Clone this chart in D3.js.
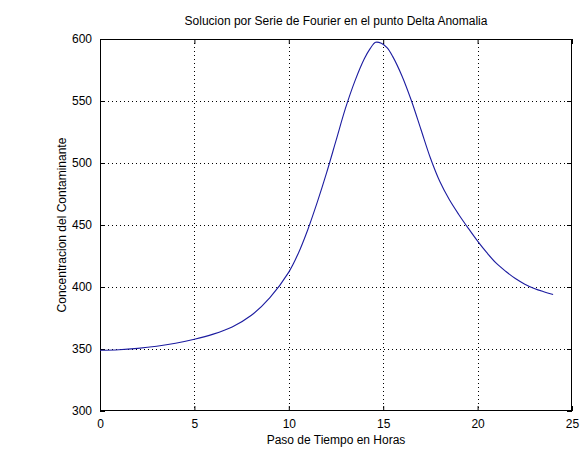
<!DOCTYPE html>
<html><head><meta charset="utf-8">
<script src="https://cdn.jsdelivr.net/npm/d3@7"></script>
<style>body{margin:0;background:#fff;}svg{display:block;font-family:"Liberation Sans",Arial,sans-serif;}</style>
</head><body>
<svg id="c" width="588" height="462"></svg>
<script>
const title = "Solucion por Serie de Fourier en el punto Delta Anomalia";
const xLabel = "Paso de Tiempo en Horas";
const yLabel = "Concentracion del Contaminante";
const xTicks = [0, 5, 10, 15, 20, 25];
const yTicks = [300, 350, 400, 450, 500, 550, 600];
const hours = [0, 1, 2, 3, 4, 5, 6, 7, 8, 9, 10, 10.5, 11, 11.5, 12, 12.5, 13, 13.5, 14, 14.3, 14.6, 14.9, 15.2, 15.5, 16, 16.5, 17, 17.5, 18, 18.5, 19, 19.5, 20, 20.5, 21, 21.5, 22, 22.5, 23, 23.5, 24];
const conc  = [349, 349.4, 350.5, 352.2, 354.6, 357.8, 362, 367.8, 377, 391.5, 412, 427, 446, 468, 492, 518, 544, 566, 584, 592, 597.3, 596.5, 593, 586, 570, 550, 527, 504, 485, 470.5, 458.5, 447.5, 437, 427.5, 419, 412.5, 406.8, 402.3, 398.8, 396.2, 394];

const svg = d3.select("#c");
const L = 100, R = 572, T = 39, B = 411;
const x = d3.scaleLinear().domain([0, 25]).range([L, R]);
const y = d3.scaleLinear().domain([300, 600]).range([B, T]);

// grid
const grid = svg.append("g").attr("stroke", "#000").attr("stroke-width", 1).attr("stroke-dasharray", "1,3").attr("shape-rendering", "crispEdges");
xTicks.slice(1, -1).forEach(t => grid.append("line").attr("x1", Math.round(x(t)) + 0.5).attr("x2", Math.round(x(t)) + 0.5).attr("y1", T).attr("y2", B));
yTicks.slice(1, -1).forEach(t => grid.append("line").attr("y1", Math.round(y(t)) + 0.5).attr("y2", Math.round(y(t)) + 0.5).attr("x1", L).attr("x2", R));

// axes with inward ticks
svg.append("g").attr("transform", `translate(0,${B})`)
  .call(d3.axisBottom(x).tickValues(xTicks).tickSize(-5).tickPadding(8).tickFormat(d3.format("d")))
  .call(g => g.select(".domain").remove());
svg.append("g").attr("transform", `translate(0,${T})`)
  .call(d3.axisTop(x).tickValues(xTicks).tickSize(-5).tickFormat(""))
  .call(g => g.select(".domain").remove());
svg.append("g").attr("transform", `translate(${L},0)`)
  .call(d3.axisLeft(y).tickValues(yTicks).tickSize(-5).tickPadding(8).tickFormat(d3.format("d")))
  .call(g => g.select(".domain").remove());
svg.append("g").attr("transform", `translate(${R},0)`)
  .call(d3.axisRight(y).tickValues(yTicks).tickSize(-5).tickFormat(""))
  .call(g => g.select(".domain").remove());
svg.selectAll(".tick text").attr("font-size", 12).attr("font-family", "Liberation Sans, Arial, sans-serif").attr("fill", "#000");
svg.selectAll(".tick line").attr("stroke", "#000");

// box
svg.append("rect").attr("x", L + 0.5).attr("y", T + 0.5).attr("width", R - L - 1).attr("height", B - T - 1)
  .attr("fill", "none").attr("stroke", "#000").attr("stroke-width", 1);

// line
const line = d3.line().x((d, i) => x(hours[i])).y(d => y(d)).curve(d3.curveCatmullRom.alpha(0.5));
svg.append("path").datum(conc).attr("d", line).attr("fill", "none").attr("stroke", "#1c1ca0").attr("stroke-width", 1.1);

// texts
svg.append("text").attr("x", (L + R) / 2).attr("y", 25).attr("text-anchor", "middle").attr("font-size", 12).text(title);
svg.append("text").attr("x", (L + R) / 2).attr("y", 444).attr("text-anchor", "middle").attr("font-size", 12).text(xLabel);
svg.append("text").attr("transform", `translate(66,${(T + B) / 2}) rotate(-90)`).attr("text-anchor", "middle").attr("font-size", 12).text(yLabel);
</script>
</body></html>
